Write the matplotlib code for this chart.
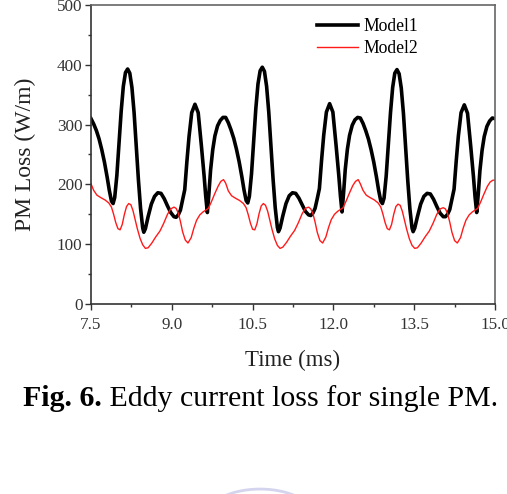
import matplotlib
matplotlib.use("Agg")
from matplotlib import pyplot as plt
from matplotlib.patches import Arc
from matplotlib.ticker import MultipleLocator

plt.rcParams['font.family'] = ['Liberation Serif', 'DejaVu Serif']

# Model1 (black)
model1_time = [
    7.50, 7.55, 7.60, 7.65, 7.70, 7.75, 7.80, 7.84, 7.88, 7.91, 7.94, 7.98,
    8.02, 8.06, 8.10, 8.14, 8.18, 8.22, 8.26, 8.30, 8.34, 8.38, 8.42, 8.46, 8.48,
    8.51, 8.56, 8.62, 8.68, 8.74, 8.80, 8.86, 8.92, 8.98,
    9.04, 9.08, 9.12, 9.16, 9.20, 9.24, 9.28, 9.32, 9.37, 9.43, 9.49, 9.55,
    9.60, 9.63, 9.66, 9.69, 9.72, 9.76, 9.80, 9.85, 9.90, 9.95,
    10.00, 10.05, 10.10, 10.15, 10.20, 10.25, 10.30, 10.34, 10.38, 10.41, 10.44, 10.48,
    10.52, 10.56, 10.60, 10.64, 10.68, 10.72, 10.76, 10.80, 10.84, 10.88, 10.92, 10.96, 10.98,
    11.01, 11.06, 11.12, 11.18, 11.24, 11.30, 11.36, 11.42, 11.48,
    11.54, 11.58, 11.62, 11.66, 11.70, 11.74, 11.78, 11.82, 11.87, 11.93, 11.99, 12.05,
    12.10, 12.13, 12.16, 12.19, 12.22, 12.26, 12.30, 12.35, 12.40, 12.45,
    12.50, 12.55, 12.60, 12.65, 12.70, 12.75, 12.80, 12.84, 12.88, 12.91, 12.94, 12.98,
    13.02, 13.06, 13.10, 13.14, 13.18, 13.22, 13.26, 13.30, 13.34, 13.38, 13.42, 13.46, 13.48,
    13.51, 13.56, 13.62, 13.68, 13.74, 13.80, 13.86, 13.92, 13.98,
    14.04, 14.08, 14.12, 14.16, 14.20, 14.24, 14.28, 14.32, 14.37, 14.43, 14.49, 14.55,
    14.60, 14.63, 14.66, 14.69, 14.72, 14.76, 14.80, 14.85, 14.90, 14.95, 15.00,
]
model1_loss = [
    310, 301, 290, 276, 258, 237, 212, 190, 172, 168, 178, 215,
    268, 322, 364, 387, 393, 386, 362, 320, 265, 208, 160, 127, 120,
    126, 146, 167, 180, 186, 185, 176, 164, 153,
    146, 145, 149, 157, 174, 191, 238, 280, 320, 334, 320, 264,
    214, 180, 153, 186, 224, 258, 281, 298, 307, 312,
    312, 303, 291, 277, 259, 238, 213, 191, 173, 169, 180, 218,
    272, 327, 368, 390, 396, 389, 364, 321, 266, 209, 161, 128, 121,
    127, 147, 168, 181, 186, 185, 177, 166, 155,
    149, 148, 152, 160, 176, 193, 240, 282, 321, 335, 321, 265,
    215, 181, 154, 187, 225, 259, 282, 299, 308, 312,
    311, 302, 290, 276, 258, 237, 212, 190, 172, 168, 177, 214,
    266, 320, 362, 386, 392, 385, 361, 319, 264, 207, 159, 127, 121,
    127, 146, 167, 180, 185, 184, 175, 163, 152,
    146, 146, 150, 158, 175, 192, 239, 281, 320, 333, 319, 263,
    213, 179, 153, 185, 223, 257, 280, 297, 306, 311, 310,
]

# Model2 (red)
model2_time = [
    7.50, 7.55, 7.61, 7.68, 7.76, 7.83, 7.88, 7.92, 7.96, 8.00, 8.04, 8.08,
    8.12, 8.16, 8.20, 8.24, 8.28, 8.32, 8.36, 8.41, 8.46, 8.51, 8.56, 8.63,
    8.70, 8.78, 8.85, 8.92, 8.98, 9.04, 9.08, 9.12, 9.16, 9.20, 9.25, 9.30,
    9.36, 9.41, 9.46, 9.52, 9.58, 9.63, 9.68, 9.74, 9.80, 9.86, 9.91, 9.96,
    10.00, 10.05, 10.11, 10.18, 10.26, 10.33, 10.38, 10.42, 10.46, 10.50, 10.54, 10.58,
    10.62, 10.66, 10.70, 10.74, 10.78, 10.82, 10.86, 10.91, 10.96, 11.01, 11.06, 11.13,
    11.20, 11.28, 11.35, 11.42, 11.48, 11.54, 11.58, 11.62, 11.66, 11.70, 11.75, 11.80,
    11.86, 11.91, 11.96, 12.02, 12.08, 12.13, 12.18, 12.24, 12.30, 12.36, 12.41, 12.46,
    12.50, 12.55, 12.61, 12.68, 12.76, 12.83, 12.88, 12.92, 12.96, 13.00, 13.04, 13.08,
    13.12, 13.16, 13.20, 13.24, 13.28, 13.32, 13.36, 13.41, 13.46, 13.51, 13.56, 13.63,
    13.70, 13.78, 13.85, 13.92, 13.98, 14.04, 14.08, 14.12, 14.16, 14.20, 14.25, 14.30,
    14.36, 14.41, 14.46, 14.52, 14.58, 14.63, 14.68, 14.74, 14.80, 14.86, 14.91, 14.96, 15.00,
]
model2_loss = [
    201, 190, 182, 178, 174, 169, 162, 150, 136, 126, 124, 133,
    150, 163, 168, 166, 156, 141, 126, 110, 99, 93, 94, 102,
    112, 122, 135, 150, 159, 162, 160, 152, 138, 121, 107, 102,
    111, 127, 140, 149, 154, 157, 160, 172, 185, 197, 205, 208,
    202, 189, 181, 177, 173, 168, 161, 149, 135, 125, 124, 134,
    151, 164, 168, 165, 155, 140, 125, 109, 98, 93, 95, 103,
    113, 123, 136, 151, 160, 162, 159, 151, 137, 120, 106, 102,
    112, 128, 141, 150, 155, 158, 161, 173, 186, 198, 205, 208,
    201, 190, 182, 178, 174, 169, 162, 150, 136, 126, 124, 133,
    150, 163, 167, 165, 155, 140, 125, 109, 98, 93, 94, 102,
    112, 122, 135, 150, 159, 161, 159, 151, 137, 120, 106, 102,
    111, 127, 140, 149, 154, 157, 160, 172, 185, 197, 204, 207, 207,
]

x_ticks = [7.5, 9.0, 10.5, 12.0, 13.5, 15.0]
y_ticks = [0, 100, 200, 300, 400, 500]

fig = plt.figure(figsize=(5.07, 4.94), dpi=100)
ax = fig.add_axes([91 / 507, 1 - 304 / 494, 404 / 507, 299 / 494])

ax.plot(model1_time, model1_loss, color='black', linewidth=2.6, label='Model1',
        solid_joinstyle='round')
ax.plot(model2_time, model2_loss, color='#ff1a1a', linewidth=1.0, label='Model2')

ax.set_xlim(7.5, 15.0)
ax.set_ylim(0, 500)
ax.set_xticks(x_ticks)
ax.set_xticklabels(['%.1f' % v for v in x_ticks])
ax.set_yticks(y_ticks)
ax.xaxis.set_minor_locator(MultipleLocator(0.75))
ax.yaxis.set_minor_locator(MultipleLocator(50))
ax.tick_params(which='major', direction='out', length=4, width=1, color='#333333',
               labelsize=12.3, labelcolor='#333333')
ax.tick_params(axis='x', which='major', pad=5.5)
ax.tick_params(axis='y', which='major', pad=2)
ax.tick_params(which='minor', direction='out', length=2, width=1, color='#333333')
for s in ['left', 'bottom']:
    ax.spines[s].set_color('#333333')
    ax.spines[s].set_linewidth(1.2)
for s in ['top', 'right']:
    ax.spines[s].set_color('#666666')
    ax.spines[s].set_linewidth(1.2)

ax.set_xlabel('Time (ms)', fontsize=16.5, color='#222222', labelpad=12)
ax.set_ylabel('PM Loss (W/m)', fontsize=17, color='#222222', labelpad=15)

ax.legend(loc='upper left', bbox_to_anchor=(0.56, 0.955), frameon=False,
          fontsize=12.7, handlelength=2.3, handletextpad=0.3, labelspacing=0.25,
          borderpad=0, borderaxespad=0)

# caption: bold "Fig. 6." followed by regular text
t1 = fig.text(23 / 507, 1 - 398 / 494, 'Fig. 6.', fontsize=21.5, fontweight='bold',
              ha='left', va='center')
plt.annotate(' Eddy current loss for single PM.', xy=(1, 0), xycoords=t1,
             fontsize=21.5, ha='left', va='bottom', annotation_clip=False)

# faint logo edge at the bottom of the page
fig.patches.append(Arc((0.513, -0.045), 0.21, 0.11, theta1=20, theta2=160,
                       transform=fig.transFigure, figure=fig,
                       color='#d4d4ee', linewidth=2))

fig.savefig('out.png', dpi=100)
